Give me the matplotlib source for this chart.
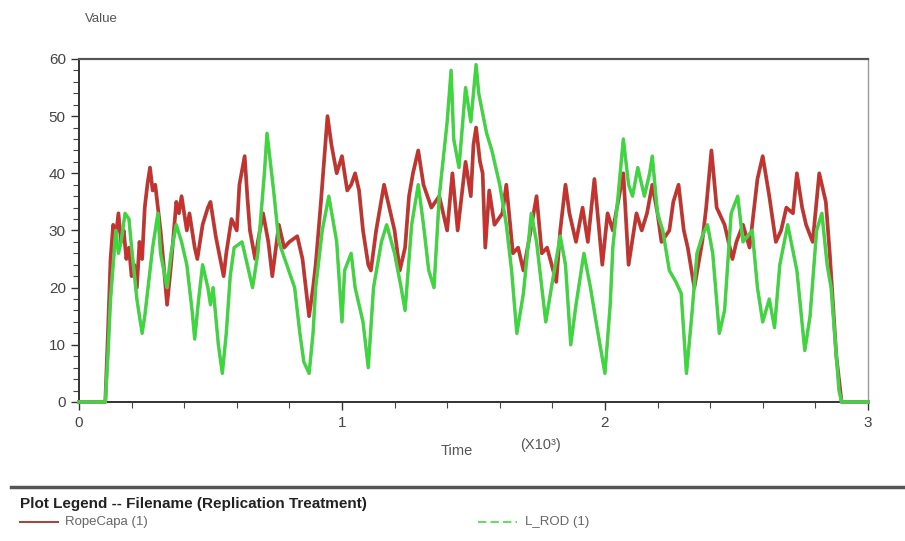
import matplotlib.pyplot as plt
import matplotlib.patheffects as pe
import numpy as np

# values (time in 10^3 units)
rope_t = [0, 0.10, 0.11, 0.12, 0.13, 0.14, 0.15, 0.16, 0.17, 0.18, 0.19, 0.20, 0.21, 0.22, 0.23, 0.24,
          0.25, 0.26, 0.27, 0.28, 0.29, 0.30, 0.31, 0.32, 0.335, 0.35, 0.37, 0.38, 0.39, 0.41, 0.42, 0.44,
          0.45, 0.47, 0.49, 0.50, 0.52, 0.55, 0.56, 0.58, 0.60, 0.61, 0.63, 0.64, 0.65, 0.67, 0.68, 0.70,
          0.72, 0.735, 0.76, 0.78, 0.80, 0.83, 0.85, 0.875, 0.89, 0.90, 0.92, 0.945, 0.96, 0.98, 1.0, 1.02,
          1.035, 1.05, 1.065, 1.08, 1.10, 1.11, 1.13, 1.16, 1.18, 1.20, 1.22, 1.24, 1.255, 1.27, 1.29, 1.31,
          1.34, 1.37, 1.40, 1.42, 1.44, 1.47, 1.49, 1.50, 1.51, 1.525, 1.535, 1.545, 1.56, 1.58, 1.61, 1.625,
          1.65, 1.67, 1.69, 1.71, 1.74, 1.76, 1.78, 1.815, 1.83, 1.85, 1.865, 1.89, 1.915, 1.935, 1.96, 1.99,
          2.01, 2.03, 2.05, 2.07, 2.09, 2.12, 2.14, 2.16, 2.18, 2.20, 2.215, 2.245, 2.26, 2.28, 2.30, 2.315,
          2.34, 2.37, 2.385, 2.405, 2.425, 2.455, 2.485, 2.50, 2.525, 2.55, 2.58, 2.60, 2.625, 2.65, 2.67, 2.69,
          2.715, 2.73, 2.75, 2.765, 2.79, 2.815, 2.84, 2.855, 2.88, 2.90, 3.0]
rope_v = [0, 0, 12, 25, 31, 29, 33, 28, 30, 25, 27, 22, 24, 20, 28, 25,
          34, 38, 41, 37, 38, 34, 30, 25, 17, 24, 35, 33, 36, 30, 33, 27,
          25, 31, 34, 35, 29, 22, 26, 32, 30, 38, 43, 36, 30, 25, 28, 33,
          28, 22, 31, 27, 28, 29, 25, 15, 20, 24, 35, 50, 45, 40, 43, 37,
          38, 40, 37, 30, 24, 23, 30, 38, 34, 30, 23, 27, 36, 40, 44, 38,
          34, 36, 30, 40, 30, 42, 36, 45, 48, 42, 40, 27, 37, 31, 33, 38,
          26, 27, 23, 28, 36, 26, 27, 21, 30, 38, 33, 28, 34, 28, 39, 24,
          33, 30, 35, 40, 24, 33, 30, 33, 38, 33, 28, 30, 35, 38, 30, 27,
          20, 28, 34, 44, 34, 31, 25, 28, 31, 27, 39, 43, 36, 28, 30, 34,
          33, 40, 34, 31, 28, 40, 35, 26, 8, 0, 0]

lrod_t = [0, 0.10, 0.11, 0.12, 0.13, 0.14, 0.15, 0.16, 0.175, 0.19, 0.20, 0.22, 0.24, 0.25, 0.265, 0.28,
          0.30, 0.31, 0.335, 0.35, 0.37, 0.39, 0.41, 0.43, 0.44, 0.455, 0.47, 0.49, 0.50, 0.51, 0.53, 0.545,
          0.56, 0.575, 0.59, 0.62, 0.64, 0.66, 0.68, 0.705, 0.715, 0.73, 0.74, 0.76, 0.79, 0.82, 0.84, 0.855,
          0.875, 0.89, 0.90, 0.925, 0.95, 0.965, 0.98, 1.0, 1.01, 1.035, 1.05, 1.08, 1.10, 1.12, 1.15, 1.17,
          1.20, 1.225, 1.24, 1.265, 1.29, 1.31, 1.33, 1.35, 1.37, 1.40, 1.415, 1.425, 1.445, 1.47, 1.49, 1.51,
          1.52, 1.55, 1.57, 1.60, 1.625, 1.645, 1.665, 1.69, 1.72, 1.74, 1.76, 1.775, 1.80, 1.83, 1.85, 1.87,
          1.89, 1.92, 1.945, 1.97, 2.0, 2.02, 2.03, 2.05, 2.07, 2.09, 2.105, 2.125, 2.15, 2.17, 2.18, 2.20,
          2.22, 2.245, 2.27, 2.29, 2.31, 2.33, 2.35, 2.37, 2.39, 2.41, 2.435, 2.455, 2.48, 2.505, 2.525, 2.56,
          2.58, 2.60, 2.625, 2.645, 2.665, 2.695, 2.73, 2.76, 2.78, 2.805, 2.825, 2.845, 2.86, 2.89, 2.90, 3.0]
lrod_v = [0, 0, 8, 18, 24, 30, 26, 28, 33, 32, 27, 18, 12, 15, 21, 27,
          33, 26, 20, 26, 31, 28, 24, 16, 11, 18, 24, 20, 17, 20, 10, 5,
          12, 22, 27, 28, 24, 20, 26, 40, 47, 41, 37, 28, 24, 20, 12, 7,
          5, 12, 20, 30, 36, 32, 28, 14, 23, 26, 20, 14, 6, 20, 28, 31,
          26, 20, 16, 31, 38, 31, 23, 20, 36, 49, 58, 46, 41, 55, 49, 59,
          54, 47, 44, 38, 31, 23, 12, 19, 33, 28, 20, 14, 21, 29, 24, 10,
          17, 26, 20, 13, 5, 17, 27, 36, 46, 38, 36, 41, 36, 40, 43, 33,
          30, 23, 21, 19, 5, 15, 26, 29, 31, 26, 12, 16, 33, 36, 28, 30,
          20, 14, 18, 13, 24, 31, 23, 9, 15, 30, 33, 24, 20, 2, 0, 0]

x_ticks = [0, 1, 2, 3]
y_ticks = [0, 10, 20, 30, 40, 50, 60]

plt.rcParams['font.family'] = ['Liberation Sans', 'DejaVu Sans']

fig = plt.figure(figsize=(9.05, 5.41), dpi=100)
ax = fig.add_axes([0.0873, 0.257, 0.8717, 0.634])

ax.plot(rope_t, rope_v, color='#d42a2a', lw=1.7, zorder=3, clip_on=False,
        path_effects=[pe.Stroke(linewidth=2.7, foreground='#8a5a4a'), pe.Normal()])
ax.plot(lrod_t, lrod_v, color='#30e030', lw=1.7, zorder=4, clip_on=False,
        path_effects=[pe.Stroke(linewidth=2.5, foreground='#86b086'), pe.Normal()])

ax.set_xlim(0, 3)
ax.set_ylim(0, 60)
ax.set_xticks(x_ticks)
ax.set_xticks(np.arange(0, 3.01, 0.2), minor=True)
ax.set_yticks(y_ticks)
ax.set_yticks(np.arange(0, 60.1, 2), minor=True)
ax.set_xticklabels([str(v) for v in x_ticks])
ax.set_yticklabels([str(v) for v in y_ticks])
ax.tick_params(axis='both', which='major', direction='out', length=6, width=1,
               color='#333333', labelsize=11, labelcolor='#444444')
ax.tick_params(axis='both', which='minor', direction='out', length=4, width=0.8, color='#444444')
ax.tick_params(axis='x', pad=4)

for s in ['left', 'bottom']:
    ax.spines[s].set_color('#333333')
    ax.spines[s].set_linewidth(1.4)
ax.spines['top'].set_color('#555555')
ax.spines['top'].set_linewidth(1.6)
ax.spines['right'].set_color('#999999')
ax.spines['right'].set_linewidth(1.0)

fig.text(0.112, 0.965, 'Value', fontsize=9.5, color='#555555', va='center', ha='center')
fig.text(0.505, 0.167, 'Time', fontsize=10.5, color='#555555', va='center', ha='center')
fig.text(0.597, 0.178, '(X10³)', fontsize=10.5, color='#555555', va='center', ha='center')

# legend area
fig.add_artist(plt.Line2D([0.012, 1.0], [0.1, 0.1], color='#555555', lw=2.5))
fig.text(0.022, 0.068, 'Plot Legend -- Filename (Replication Treatment)', fontsize=11,
         fontweight='bold', color='#222222', va='center')
fig.add_artist(plt.Line2D([0.022, 0.064], [0.035, 0.035], color='#a04848', lw=1.5))
fig.text(0.072, 0.035, 'RopeCapa (1)', fontsize=9.5, color='#666666', va='center')
fig.add_artist(plt.Line2D([0.528, 0.571], [0.035, 0.035], color='#66dd66', lw=1.5, ls=(0, (4, 2))))
fig.text(0.58, 0.035, 'L_ROD (1)', fontsize=9.5, color='#666666', va='center')

fig.savefig('out.png', dpi=100)
